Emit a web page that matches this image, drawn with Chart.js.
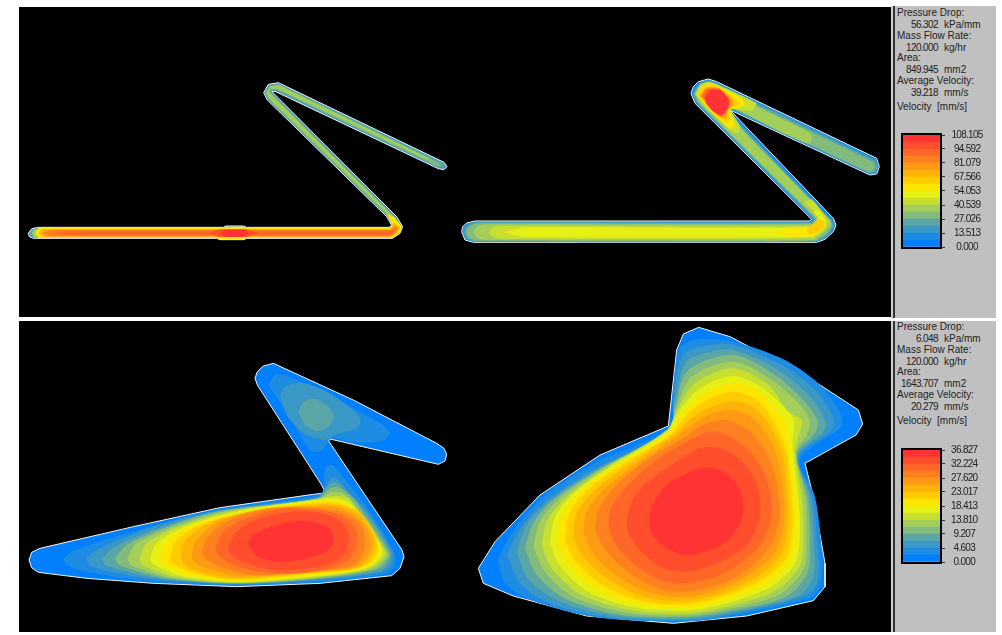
<!DOCTYPE html>
<html>
<head>
<meta charset="utf-8">
<title>Velocity contours</title>
<script src="https://cdn.jsdelivr.net/npm/chart.js@4/dist/chart.umd.min.js"></script>
<style>
  html, body { margin: 0; padding: 0; background: #fff; overflow: hidden; }
  #page { position: relative; width: 1002px; height: 635px; font: 10px "Liberation Sans", Arial, sans-serif; color: #222; }
  .plot { position: absolute; left: 19px; width: 872px; background: #000; }
  .rule { position: absolute; left: 891px; width: 2px; background: #ccc; border-right: 2px solid #333; }
  .side { position: absolute; left: 895px; width: 101px; background: #c0c0c0; }
  .row { position: absolute; line-height: 12px; white-space: pre; }
  .num { letter-spacing: -0.6px; }
  canvas { position: absolute; }
</style>
</head>
<body>
<div id="page">
  <div class="plot" style="top:7px;height:310px"></div>
  <div class="plot" style="top:321px;height:311px"></div>
  <div class="rule" style="top:6px;height:312px"></div>
  <div class="rule" style="top:321px;height:311px"></div>
  <div class="side" style="top:6px;height:312px"></div>
  <div class="side" style="top:321px;height:311px"></div>
  <canvas id="thinLeft" width="430" height="180" style="left:20px;top:70px"></canvas>
  <canvas id="thinRight" width="440" height="180" style="left:450px;top:70px"></canvas>
  <canvas id="wideLeft" width="430" height="240" style="left:20px;top:355px"></canvas>
  <canvas id="wideRight" width="400" height="310" style="left:470px;top:320px"></canvas>
  <canvas id="scaleTop" width="96" height="132" style="left:900px;top:125px"></canvas>
  <canvas id="scaleBottom" width="96" height="132" style="left:900px;top:440px"></canvas>
</div>
<script>
// velocity bands, slowest to fastest
const bandColors = ['#0080ff', '#1e8ce2', '#3a98c6', '#5aa5a6', '#82bb7c', '#a4ce5a', '#c8df30', '#e6f012',
  '#ffe600', '#ffcc00', '#ffb30a', '#ff9a14', '#ff801e', '#ff6628', '#ff4d2e', '#ff3333'];

const scaleEdgesTop = [0, 6.757, 13.513, 20.27, 27.026, 33.783, 40.539, 47.296, 54.053, 60.81, 67.566, 74.323, 81.079, 87.836, 94.592, 101.349, 108.105];
const scaleEdgesBottom = [0, 2.301, 4.603, 6.905, 9.207, 11.509, 13.81, 16.112, 18.413, 20.715, 23.017, 25.319, 27.62, 29.922, 32.224, 34.526, 36.827];
const scaleTicksTop = ['0.000', '13.513', '27.026', '40.539', '54.053', '67.566', '81.079', '94.592', '108.105'];
const scaleTicksBottom = ['0.000', '4.603', '9.207', '13.810', '18.413', '23.017', '27.620', '32.224', '36.827'];

const panelLabels = ['Pressure Drop:', 'Mass Flow Rate:', 'Area:', 'Average Velocity:'];
const panelUnits = ['kPa/mm', 'kg/hr', 'mm2', 'mm/s'];
const panelValuesTop = ['56.302', '120.000', '849.945', '39.218'];
const panelValuesBottom = ['6.048', '120.000', '1643.707', '20.279'];
const scaleTitle = 'Velocity  [mm/s]';

// thin section, top left
const thinLeftOuter = [[25,490],[35,476],[55,472],[610,472],[618,468],[670,468],[680,472],[1105,472],[1116,468],[1100,440],[742,90],[731,68],[745,43],[775,38],[1272,277],[1281,290],[1272,299],[1255,296],[765,64],[756,65],[1130,440],[1148,470],[1140,490],[1118,505],[680,505],[672,509],[600,509],[590,505],[40,505],[28,500]];
const thinLeftTeal = [[733,68],[747,45],[775,41],[1268,279],[1276,290],[1258,293],[767,61],[752,62],[755,69],[1127,442],[1103,440],[744,90]];
const thinLeftGreen = [[736,68],[749,48],[775,43],[1255,278],[1262,288],[1250,288],[769,58],[750,59],[752,69],[1124,442],[1107,442],[748,90]];
const thinLeftLime = [[739,68],[752,51],[775,46],[1225,263],[1225,271],[771,56],[748,56],[749,69],[1120,440],[1111,440],[752,90]];
const thinLeftTip = [[28,490],[36,478],[46,476],[46,503],[36,502]];
const thinLeftBarGreen = [[36,490],[42,478],[52,476],[52,503],[42,502]];
const thinLeftBarYellow = [[45,488],[55,474],[610,474],[618,470],[670,470],[680,474],[1107,474],[1118,468],[1100,432],[1124,442],[1146,470],[1138,490],[1116,504],[680,504],[672,508],[600,508],[590,504],[55,504]];
const thinLeftBarAmber = [[55,489],[68,477],[1110,477],[1122,458],[1140,472],[1130,490],[1113,501],[68,501]];
const thinLeftBarOrange = [[65,489],[90,480],[1112,480],[1126,468],[1135,474],[1125,490],[1110,499],[90,499]];
const thinLeftBarHot = [[100,490],[150,484],[1100,484],[1120,479],[1128,479],[1118,490],[1105,495],[150,495]];
const thinLeftBlobRed = [[565,490],[600,478],[680,478],[715,490],[680,501],[600,501]];
const thinLeftBlobCore = [[600,490],[620,479],[670,479],[685,490],[670,500],[620,500]];

// wider section, top right
const thinRightOuter = [[35,485],[38,470],[50,459],[75,453],[1078,453],[1085,448],[735,100],[723,70],[730,50],[745,35],[775,27],[800,35],[1280,265],[1288,290],[1280,312],[1260,315],[840,120],[1150,445],[1158,465],[1150,485],[1125,508],[1100,517],[70,517],[45,510]];
const thinRightBlue = [[38,485],[42,472],[53,462],[76,456],[1080,456],[1089,448],[739,100],[727,70],[747,38],[775,30],[798,38],[1276,268],[1285,290],[1277,309],[1260,312],[838,117],[836,122],[1146,448],[1154,465],[1137,497],[1098,515],[72,515],[47,507]];
const thinRightTeal = [[42,485],[51,467],[78,458],[1083,458],[1093,447],[743,100],[731,71],[749,41],[775,33],[796,41],[1272,271],[1282,290],[1274,306],[1258,309],[834,112],[830,122],[1142,449],[1150,465],[1134,494],[1096,514],[73,514],[50,504]];
const thinRightGreen = [[48,485],[56,470],[82,460],[1086,460],[1097,446],[746,100],[735,72],[752,44],[776,37],[793,44],[1268,275],[1275,290],[1268,302],[1255,305],[832,108],[826,122],[1140,452],[1147,465],[1130,491],[1094,512],[75,512],[54,501]];
const thinRightLime = [[70,486],[80,470],[105,463],[1089,463],[1100,446],[750,100],[740,73],[757,50],[777,44],[790,49],[1000,150],[1085,192],[1080,222],[1000,190],[828,102],[815,115],[1142,452],[1142,466],[1124,487],[1090,510],[105,510],[80,504]];
const thinRightBarPale = [[115,487],[130,470],[165,468],[1085,468],[1108,440],[1065,398],[1085,388],[1130,445],[1132,470],[1088,504],[165,506],[130,503]];
const thinRightBarYellow = [[160,487],[230,472],[1085,472],[1106,446],[1090,425],[1105,420],[1126,452],[1124,470],[1085,500],[230,502]];
const thinRightBarGold = [[975,487],[1040,474],[1085,473],[1106,448],[1118,450],[1124,470],[1085,496],[1030,500]];
const thinRightBarAmber = [[1068,482],[1095,455],[1115,448],[1124,465],[1105,488],[1075,494]];
const thinRightHotPale = [[735,72],[752,43],[778,36],[800,42],[920,100],[905,122],[842,118],[870,170],[860,190],[835,175],[760,105]];
const thinRightHotGold = [[742,72],[758,48],[780,42],[800,47],[875,85],[885,105],[860,115],[838,120],[855,165],[840,178],[820,160],[765,105]];
const thinRightHotAmber = [[745,74],[760,52],[782,46],[805,52],[860,90],[868,103],[845,113],[835,125],[842,150],[825,155],[768,105]];
const thinRightHotOrange = [[750,76],[765,55],[785,50],[808,55],[848,90],[850,103],[835,115],[828,145],[812,142],[772,102]];
const thinRightHotDeep = [[755,78],[770,58],[790,54],[810,58],[840,92],[838,108],[822,135],[805,137],[775,102]];
const thinRightHotRed = [[765,80],[780,62],[810,60],[835,85],[835,110],[815,135],[790,125],[768,100]];

// bottom left
const wideLeftOuter = [[705,70],[712,50],[730,33],[760,25],[1000,135],[1250,265],[1272,280],[1280,298],[1275,318],[1255,328],[930,252],[926,258],[1146,585],[1152,605],[1140,640],[1115,662],[900,685],[650,695],[400,685],[200,670],[55,652],[35,638],[27,615],[35,592],[60,580],[340,515],[600,458],[880,418],[908,415],[912,405],[905,390],[712,90]];
const wideLeftUpper1 = [[745,90],[770,57],[830,75],[960,140],[1080,205],[1110,235],[1085,258],[1000,262],[930,248],[918,275],[895,290],[870,285],[800,170]];
const wideLeftUpper2 = [[780,120],[800,92],[850,85],[920,110],[1000,165],[1022,195],[1010,220],[960,235],[915,255],[895,250],[850,235],[800,180]];
const wideLeftUpper3 = [[835,170],[850,140],[885,132],[925,155],[942,185],[925,215],[890,228],[855,210]];
const wideLeftLevels = [
  [[130,610],[165,585],[340,530],[600,463],[895,422],[912,400],[915,340],[935,330],[965,360],[1005,410],[1050,470],[1122,590],[1125,625],[1100,655],[900,680],[650,690],[400,680],[200,650],[140,630]],
  [[198,610],[240,580],[400,515],[600,465],[895,425],[918,395],[935,368],[948,368],[990,415],[1042,470],[1118,590],[1115,625],[1090,650],[900,675],[650,687],[420,675],[260,648],[210,630]],
  [[245,610],[285,575],[420,518],[600,467],[895,428],[925,390],[948,382],[975,405],[1035,470],[1112,590],[1105,625],[1080,648],[900,672],[650,686],[430,672],[300,645],[255,628]],
  [[285,610],[320,570],[440,516],[600,469],[895,430],[930,400],[955,397],[1000,430],[1028,470],[1108,595],[1095,625],[1065,645],[900,670],[650,685],[440,670],[330,642],[295,628]],
  [[322,610],[350,565],[460,515],[620,468],[895,431],[935,412],[970,415],[1020,470],[1102,595],[1085,625],[1050,645],[900,668],[650,684],[450,668],[355,640],[330,628]],
  [[358,610],[380,565],[480,514],[640,468],[890,433],[940,422],[985,430],[1012,470],[1095,590],[1075,625],[1035,645],[900,665],[650,683],[465,665],[385,638],[365,628]],
  [[390,610],[410,565],[500,513],[660,468],[880,436],[945,430],[990,445],[1030,490],[1088,588],[1065,625],[1020,645],[900,662],[650,680],[480,662],[415,635],[397,625]],
  [[420,610],[435,565],[520,510],[680,470],[880,440],[950,438],[995,460],[1050,525],[1080,585],[1055,625],[1005,645],[890,660],[650,678],[495,658],[440,632],[425,625]],
  [[450,612],[465,560],[545,507],[700,468],[880,445],[950,445],[1015,470],[1062,530],[1072,585],[1045,628],[990,645],[880,655],[650,675],[510,652],[468,630],[452,625]],
  [[482,610],[495,558],[570,503],[720,465],[880,450],[950,450],[1020,480],[1060,540],[1062,585],[1030,630],[975,645],[870,652],[650,670],[530,648],[495,628]],
  [[515,600],[530,555],[600,498],[740,460],[880,455],[955,458],[1020,495],[1050,545],[1052,585],[1015,630],[960,643],[860,650],[650,662],[560,640],[520,620]],
  [[545,590],[565,545],[630,495],[760,460],[870,458],[960,470],[1018,505],[1035,550],[1030,590],[1000,630],[940,643],[840,655],[700,660],[600,635],[555,610]],
  [[585,580],[610,530],[680,490],[780,462],[880,465],[960,480],[1005,520],[1010,570],[985,615],[930,640],[840,655],[720,650],[640,630],[595,600]],
  [[625,575],[650,530],[720,490],[800,472],[890,472],[955,495],[985,535],[980,585],[945,620],[870,640],[760,645],[680,625],[635,600]],
  [[683,565],[700,540],[770,510],[850,497],[920,515],[942,550],[925,585],[860,610],[780,620],[715,605]]
];

// bottom right
const wideRightOuter = [[640,42],[686,22],[780,50],[860,92],[975,145],[1050,195],[1165,270],[1178,312],[1158,345],[1005,430],[1030,530],[1065,730],[1065,800],[1030,842],[830,888],[610,910],[350,888],[130,828],[40,790],[25,745],[75,665],[210,525],[390,405],[595,318],[620,90]];
const wideRightLevels = [
  [[82,720],[125,640],[215,535],[365,435],[600,322],[608,225],[630,85],[685,58],[790,65],[945,120],[1055,200],[1115,290],[1110,325],[990,418],[1035,530],[1055,700],[1052,790],[1025,832],[770,890],[650,904],[400,895],[210,850],[110,795]],
  [[112,705],[150,625],[225,545],[360,455],[600,325],[610,240],[635,110],[690,80],[790,75],[935,135],[1040,215],[1090,295],[1085,330],[985,410],[1027,530],[1040,650],[1045,780],[1010,825],[770,885],[650,900],[420,893],[240,850],[150,790]],
  [[140,695],[170,615],[235,545],[370,455],[598,328],[612,255],[645,130],[700,100],[790,90],[925,150],[1020,230],[1065,300],[1060,335],[983,405],[1020,530],[1030,650],[1030,770],[980,830],[770,880],[650,896],[440,888],[270,845],[175,778]],
  [[165,685],[190,610],[250,540],[385,450],[597,330],[615,260],[655,150],[790,105],[915,165],[1000,240],[1042,300],[1035,340],[981,400],[1012,530],[1020,650],[1012,760],[945,832],[770,875],[650,891],[455,885],[290,838],[200,765]],
  [[190,680],[210,605],[270,535],[400,445],[595,330],[618,265],[665,170],[790,125],[905,180],[985,250],[1018,300],[1010,345],[978,395],[1005,530],[1010,650],[1000,750],[925,825],[770,868],[650,886],[470,878],[310,830],[225,755]],
  [[215,675],[232,600],[290,530],[415,440],[590,330],[622,270],[675,190],[790,145],[895,195],[955,275],[995,300],[985,350],[975,400],[995,530],[1000,640],[988,740],[910,815],[770,860],[650,880],[480,870],[330,822],[245,745]],
  [[240,670],[255,590],[310,520],[430,435],[590,335],[630,270],[690,205],[790,168],[880,205],[940,260],[972,300],[968,360],[970,400],[985,530],[990,640],[975,730],[900,802],[770,850],[650,872],[490,862],[350,812],[268,735]],
  [[262,665],[275,590],[330,515],[450,430],[590,345],[640,280],[700,222],[790,190],[870,220],[925,280],[945,300],[958,375],[962,430],[978,540],[978,630],[962,720],[890,790],[770,838],[650,863],[500,852],[370,802],[290,725]],
  [[285,660],[295,590],[350,510],[470,425],[600,345],[650,285],[710,240],[790,215],[860,240],[915,310],[948,390],[958,450],[965,530],[968,620],[950,710],[880,778],[770,825],[650,853],[510,842],[390,790],[310,715]],
  [[310,650],[320,580],[375,510],[490,425],[610,345],[665,295],[720,262],[790,243],[855,265],[910,335],[940,410],[952,520],[955,610],[935,700],[870,765],[770,815],[650,842],[520,830],[410,775],[335,705]],
  [[340,640],[350,575],[400,510],[510,425],[620,350],[680,305],[730,280],[790,270],[850,295],[900,360],[930,440],[942,540],[942,610],[920,690],[860,750],[770,800],[650,830],[530,815],[430,760],[365,695]],
  [[375,625],[385,570],[430,505],[530,420],[640,355],[700,315],[770,300],[840,335],[890,400],[920,490],[928,590],[905,670],[850,735],[770,785],[650,815],[550,800],[460,745],[400,680]],
  [[415,620],[425,560],[475,495],[560,420],[650,365],[720,335],[770,345],[830,385],[875,445],[900,510],[905,590],[880,660],[830,715],[750,765],[650,790],[570,780],[490,730],[435,670]],
  [[470,600],[490,535],[540,480],[620,425],[690,385],[745,385],[800,410],[850,470],[870,540],[865,610],[835,670],[780,710],[700,745],[640,755],[570,740],[510,690],[475,640]],
  [[537,590],[548,555],[585,500],[640,465],[700,443],[760,455],[805,500],[820,555],[810,610],[775,660],[720,690],[650,705],[590,685],[545,640]]
];

const c = bandColors;

function toPoints(list) {
  const pts = list.map((p) => ({ x: p[0], y: p[1] }));
  pts.push(pts[0]); // close the outline
  return pts;
}

function contourChart(id, xMax, yMax, layers, tension) {
  new Chart(document.getElementById(id).getContext('2d'), {
    type: 'scatter',
    data: {
      datasets: layers.map((l, i) => ({
        data: toPoints(l[0]),
        showLine: true,
        fill: 'shape',
        backgroundColor: l[1],
        borderColor: i === 0 ? '#f4f4f4' : l[1],
        borderWidth: i === 0 ? 1 : 0,
        pointRadius: 0,
        tension: i === 0 ? 0 : tension,
        order: -i // later layers sit on top
      }))
    },
    options: {
      responsive: false,
      animation: false,
      layout: { padding: 0 },
      plugins: { legend: { display: false }, tooltip: { enabled: false } },
      scales: {
        x: { display: false, min: 0, max: xMax },
        y: { display: false, min: 0, max: yMax, reverse: true }
      }
    }
  });
}

contourChart('thinLeft', 1290, 540, [
  [thinLeftOuter, c[2]],
  [thinLeftTeal, c[3]],
  [thinLeftGreen, c[4]],
  [thinLeftLime, c[5]],
  [thinLeftTip, c[3]],
  [thinLeftBarGreen, c[5]],
  [thinLeftBarYellow, c[8]],
  [thinLeftBarAmber, c[10]],
  [thinLeftBarOrange, c[12]],
  [thinLeftBarHot, c[13]],
  [thinLeftBlobRed, c[14]],
  [thinLeftBlobCore, c[15]]
], 0);

contourChart('thinRight', 1320, 540, [
  [thinRightOuter, c[0]],
  [thinRightBlue, c[2]],
  [thinRightTeal, c[3]],
  [thinRightGreen, c[4]],
  [thinRightLime, c[5]],
  [thinRightBarPale, c[6]],
  [thinRightBarYellow, c[7]],
  [thinRightBarGold, c[8]],
  [thinRightBarAmber, c[9]],
  [thinRightHotPale, c[6]],
  [thinRightHotGold, c[8]],
  [thinRightHotAmber, c[9]],
  [thinRightHotOrange, c[11]],
  [thinRightHotDeep, c[13]],
  [thinRightHotRed, c[15]]
], 0.15);

contourChart('wideLeft', 1290, 720, [
  [wideLeftOuter, c[0]],
  [wideLeftUpper1, c[1]],
  [wideLeftUpper2, c[2]],
  [wideLeftUpper3, c[3]]
].concat(wideLeftLevels.map((l, i) => [l, c[i + 1]])), 0.3);

contourChart('wideRight', 1200, 930, [
  [wideRightOuter, c[0]]
].concat(wideRightLevels.map((l, i) => [l, c[i + 1]])), 0.3);

// outline round the colour bar, narrower digits for the tick labels
const barFrame = {
  id: 'barFrame',
  beforeDraw(chart) {
    chart.ctx.letterSpacing = '-0.7px';
  },
  afterDraw(chart) {
    const a = chart.chartArea, ctx = chart.ctx;
    ctx.save();
    ctx.strokeStyle = '#000';
    ctx.lineWidth = 2;
    ctx.strokeRect(a.left, a.top - 1, a.right - a.left, a.bottom - a.top + 2);
    ctx.restore();
  }
};

function scaleBar(id, edges, ticks) {
  new Chart(document.getElementById(id).getContext('2d'), {
    type: 'bar',
    data: {
      labels: ['v'],
      datasets: bandColors.map((col, i) => ({
        data: [[edges[i], edges[i + 1]]],
        backgroundColor: col,
        grouped: false,
        barPercentage: 1,
        categoryPercentage: 1
      }))
    },
    options: {
      responsive: false,
      animation: false,
      layout: { padding: { left: 2, top: 2, bottom: 1 } },
      plugins: { legend: { display: false }, tooltip: { enabled: false } },
      scales: {
        x: { display: false },
        y: {
          position: 'right',
          min: 0,
          max: edges[16],
          afterFit(axis) { axis.width = 55; },
          afterBuildTicks(axis) { axis.ticks = ticks.map((t) => ({ value: parseFloat(t) })); },
          grid: { display: true, drawOnChartArea: false, drawTicks: true, tickLength: 4, tickColor: '#333' },
          border: { display: false },
          ticks: {
            autoSkip: false,
            padding: 4,
            crossAlign: 'center',
            color: '#222',
            font: { family: '"Liberation Sans"', size: 10 },
            callback: (v, i) => ticks[i]
          }
        }
      }
    },
    plugins: [barFrame]
  });
}

scaleBar('scaleTop', scaleEdgesTop, scaleTicksTop);
scaleBar('scaleBottom', scaleEdgesBottom, scaleTicksBottom);

// text in the grey side panels
function addRow(text, left, top, right) {
  const el = document.createElement('div');
  el.className = right ? 'row num' : 'row';
  el.textContent = text;
  el.style.top = top + 'px';
  if (right) el.style.right = (1002 - right) + 'px';
  else el.style.left = left + 'px';
  document.getElementById('page').appendChild(el);
}

function addPanel(values, dy) {
  const tops = [7, 30, 52, 75];
  panelLabels.forEach((label, i) => {
    addRow(label, 897, tops[i] + dy);
    addRow(values[i], 0, tops[i] + 11.5 + dy, 938);
    addRow(panelUnits[i], 944, tops[i] + 11.5 + dy);
  });
  addRow(scaleTitle, 897, 100.5 + dy);
}

addPanel(panelValuesTop, 0);
addPanel(panelValuesBottom, 314);
</script>
</body>
</html>
